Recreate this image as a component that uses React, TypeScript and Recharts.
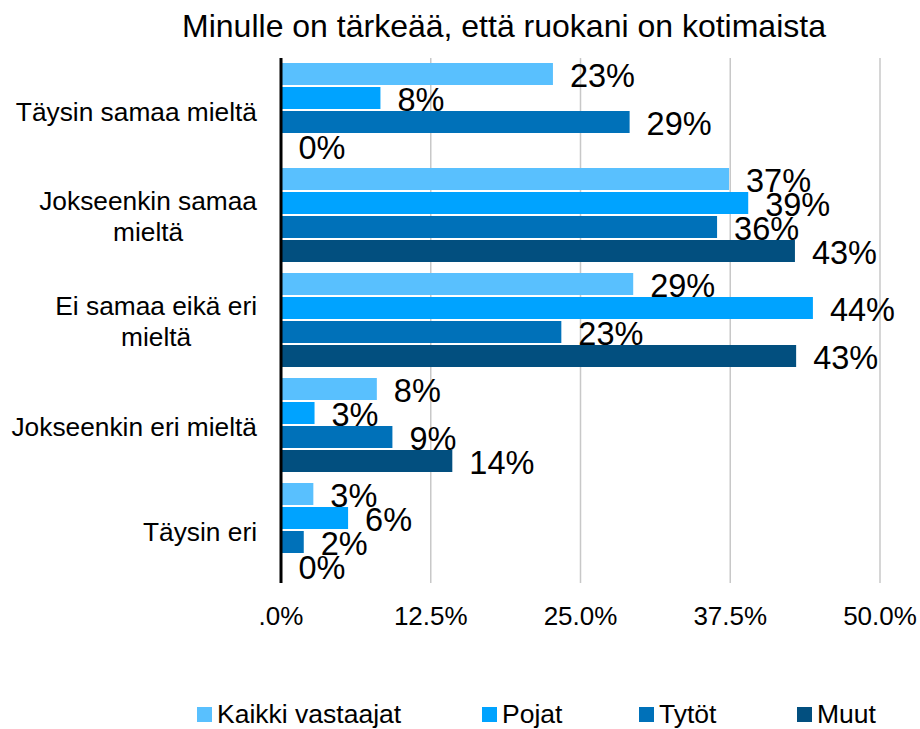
import { BarChart, Bar, XAxis, YAxis, CartesianGrid, LabelList } from "recharts";

const FONT = '"Liberation Sans", Arial, sans-serif';

const categories = [
  "Täysin samaa mieltä",
  "Jokseenkin samaa mieltä",
  "Ei samaa eikä eri mieltä",
  "Jokseenkin eri mieltä",
  "Täysin eri",
];
const categoryLines = [
  ["Täysin samaa mieltä"],
  ["Jokseenkin samaa", "mieltä"],
  ["Ei samaa eikä eri", "mieltä"],
  ["Jokseenkin eri mieltä"],
  ["Täysin eri"],
];
const kaikki = [22.7, 37.4, 29.4, 8.0, 2.7];
const pojat = [8.3, 39.0, 44.4, 2.8, 5.6];
const tytot = [29.1, 36.4, 23.4, 9.3, 1.9];
const muut = [0, 42.9, 43.0, 14.3, 0];

const seriesNames = ["Kaikki vastaajat", "Pojat", "Tytöt", "Muut"];
const seriesKeys = ["kaikki", "pojat", "tytot", "muut"];
const colors = ["#59C0FE", "#00A3FF", "#0071B9", "#024F7F"];

const xTicks = [0, 12.5, 25, 37.5, 50];
const xTickLabels = [".0%", "12.5%", "25.0%", "37.5%", "50.0%"];

const title = "Minulle on tärkeää, että ruokani on kotimaista";

// legend item left edges (px)
const legendLeft = [197, 482, 639, 797];

const data = categories.map((name, i) => ({
  name,
  kaikki: kaikki[i],
  pojat: pojat[i],
  tytot: tytot[i],
  muut: muut[i],
}));

let ctx: CanvasRenderingContext2D | null = null;
const textWidth = (s: string, size: number) => {
  if (!ctx) ctx = document.createElement("canvas").getContext("2d");
  if (!ctx) return s.length * size * 0.5;
  ctx.font = `${size}px "Liberation Sans"`;
  return ctx.measureText(s).width;
};

const CatTick = (props: any) => {
  const { x, y, payload } = props;
  const idx = categories.indexOf(payload.value);
  const lines = categoryLines[idx] ?? [payload.value];
  const size = 26.3;
  const w = Math.max(...lines.map((l) => textWidth(l, size)));
  const cx = x - w / 2;
  const lh = 31;
  const y0 = y - ((lines.length - 1) * lh) / 2 + 1;
  return (
    <g>
      {lines.map((l, i) => (
        <text
          key={i}
          x={cx}
          y={y0 + i * lh}
          textAnchor="middle"
          dominantBaseline="central"
          fontSize={size}
          fontFamily={FONT}
          fill="#000"
        >
          {l}
        </text>
      ))}
    </g>
  );
};

const XTick = (props: any) => {
  const { x, y, payload } = props;
  const i = xTicks.indexOf(payload.value);
  return (
    <text
      x={x}
      y={y + 33}
      textAnchor="middle"
      dominantBaseline="central"
      fontSize={26}
      fontFamily={FONT}
      fill="#000"
    >
      {xTickLabels[i] ?? payload.value}
    </text>
  );
};

const ValueLabel = (props: any) => {
  const { x, y, width, height, value } = props;
  return (
    <text
      x={Number(x) + Number(width) + 17}
      y={Number(y) + Number(height) / 2 + 1.5}
      dominantBaseline="central"
      fontSize={32.5}
      fontFamily={FONT}
      fill="#000"
    >
      {`${Math.round(Number(value))}%`}
    </text>
  );
};

export default function App() {
  return (
    <div
      style={{
        position: "absolute",
        left: 0,
        top: 0,
        width: 920,
        height: 729,
        background: "#fff",
        fontFamily: FONT,
      }}
    >
      <div
        style={{
          position: "absolute",
          top: 10,
          left: 504,
          transform: "translateX(-50%)",
          whiteSpace: "nowrap",
          fontSize: 32,
          lineHeight: "32px",
          color: "#000",
        }}
      >
        {title}
      </div>
      <BarChart
        width={920}
        height={729}
        data={data}
        layout="vertical"
        margin={{ top: 58, right: 40, left: 0, bottom: 0 }}
        barCategoryGap={5}
        barGap={2}
      >
        <CartesianGrid horizontal={false} stroke="#c8c8c8" strokeWidth={1.5} />
        <XAxis
          type="number"
          domain={[0, 50]}
          ticks={xTicks}
          interval={0}
          height={146}
          axisLine={false}
          tickLine={false}
          tickSize={0}
          tickMargin={0}
          tick={<XTick />}
        />
        <YAxis
          type="category"
          dataKey="name"
          width={281}
          interval={0}
          axisLine={{ stroke: "#000", strokeWidth: 3 }}
          tickLine={false}
          tickSize={0}
          tickMargin={24}
          tick={<CatTick />}
        />
        {seriesKeys.map((k, i) => (
          <Bar
            key={k}
            dataKey={k}
            name={seriesNames[i]}
            fill={colors[i]}
            minPointSize={0.5}
            isAnimationActive={false}
          >
            <LabelList dataKey={k} content={<ValueLabel />} />
          </Bar>
        ))}
      </BarChart>
      {seriesNames.map((n, i) => (
        <div
          key={n}
          style={{
            position: "absolute",
            top: 701,
            left: legendLeft[i],
            display: "flex",
            alignItems: "center",
            gap: 5,
            fontSize: 26.5,
            lineHeight: "26px",
            whiteSpace: "nowrap",
          }}
        >
          <span style={{ width: 15, height: 15, background: colors[i], display: "inline-block" }} />
          <span>{n}</span>
        </div>
      ))}
    </div>
  );
}
